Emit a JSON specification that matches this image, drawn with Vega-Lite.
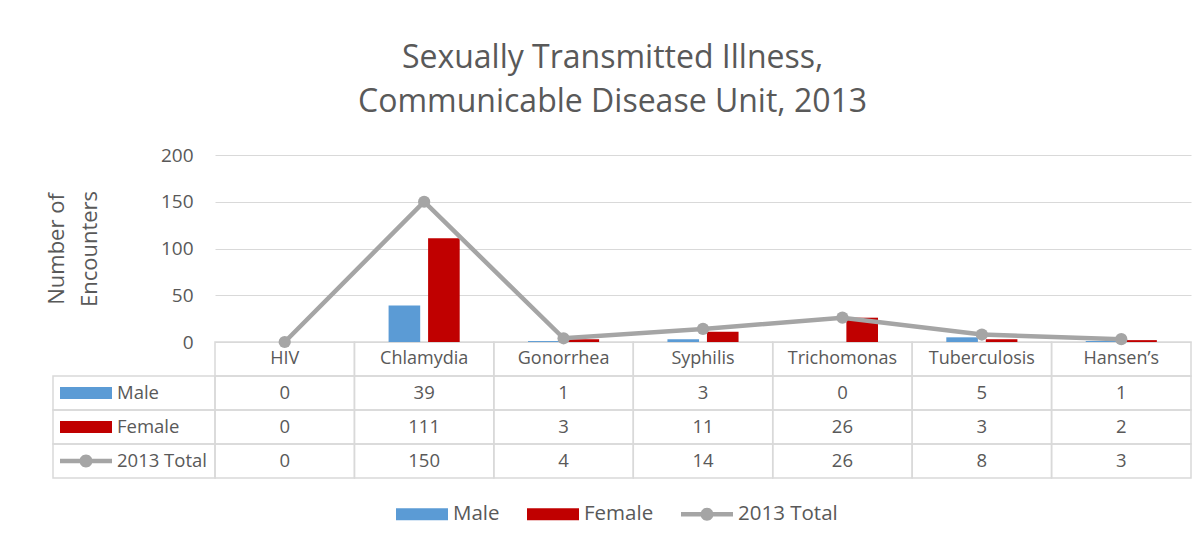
{
  "$schema": "https://vega.github.io/schema/vega-lite/v6.json",
  "width": 976,
  "height": 187,
  "autosize": {"type": "none"},
  "padding": {"left": 215, "top": 155, "right": 11, "bottom": 201},
  "background": "white",
  "config": {"view": {"stroke": null}, "font": "Open Sans"},
  "title": {
    "text": ["Sexually Transmitted Illness,", "Communicable Disease Unit, 2013"],
    "fontSize": 32, "font": "Open Sans", "fontWeight": "normal", "color": "#595959",
    "lineHeight": 44, "anchor": "middle", "frame": "bounds", "offset": 27, "dx": -6
  },
  "data": {"values": [
    {"category": "HIV", "series": "Male", "value": 0},
    {"category": "Chlamydia", "series": "Male", "value": 39},
    {"category": "Gonorrhea", "series": "Male", "value": 1},
    {"category": "Syphilis", "series": "Male", "value": 3},
    {"category": "Trichomonas", "series": "Male", "value": 0},
    {"category": "Tuberculosis", "series": "Male", "value": 5},
    {"category": "Hansen’s", "series": "Male", "value": 1},
    {"category": "HIV", "series": "Female", "value": 0},
    {"category": "Chlamydia", "series": "Female", "value": 111},
    {"category": "Gonorrhea", "series": "Female", "value": 3},
    {"category": "Syphilis", "series": "Female", "value": 11},
    {"category": "Trichomonas", "series": "Female", "value": 26},
    {"category": "Tuberculosis", "series": "Female", "value": 3},
    {"category": "Hansen’s", "series": "Female", "value": 2},
    {"category": "HIV", "series": "2013 Total", "value": 0},
    {"category": "Chlamydia", "series": "2013 Total", "value": 150},
    {"category": "Gonorrhea", "series": "2013 Total", "value": 4},
    {"category": "Syphilis", "series": "2013 Total", "value": 14},
    {"category": "Trichomonas", "series": "2013 Total", "value": 26},
    {"category": "Tuberculosis", "series": "2013 Total", "value": 8},
    {"category": "Hansen’s", "series": "2013 Total", "value": 3}
  ]},
  "layer": [
    {
      "layer": [
        {
          "mark": {"type": "rect", "fill": "white", "fillOpacity": 0, "stroke": "#d9d9d9", "strokeWidth": 1.5},
          "encoding": {
            "x": {"field": "category", "type": "nominal", "sort": null,
                  "scale": {"type": "band", "paddingInner": 0, "paddingOuter": 0}, "axis": null},
            "y": {"field": "series", "type": "nominal"}
          }
        },
        {
          "transform": [{"filter": "datum.series === 'Male'"}],
          "layer": [
            {
              "mark": {"type": "rect", "fill": "white", "fillOpacity": 0, "stroke": "#d9d9d9", "strokeWidth": 1.5},
              "encoding": {
                "x": {"field": "category", "type": "nominal", "sort": null, "axis": null},
                "y": {"datum": "header", "type": "nominal"}
              }
            },
            {
              "mark": {"type": "text", "fontSize": 18, "color": "#595959", "font": "Open Sans"},
              "encoding": {
                "x": {"field": "category", "type": "nominal", "sort": null, "axis": null},
                "y": {"datum": "header", "type": "nominal"},
                "text": {"field": "category"}
              }
            }
          ]
        },
        {
          "mark": {"type": "text", "fontSize": 18.5, "color": "#595959", "font": "Open Sans"},
          "encoding": {
            "x": {"field": "category", "type": "nominal", "sort": null, "axis": null},
            "y": {"field": "series", "type": "nominal"},
            "text": {"field": "value"}
          }
        }
      ],
      "encoding": {
        "y": {"type": "nominal",
              "scale": {"type": "band", "domain": ["header", "Male", "Female", "2013 Total"], "range": [187, 323], "paddingInner": 0, "paddingOuter": 0},
              "axis": null}
      }
    },
    {
      "transform": [{"filter": "datum.category === 'HIV'"}],
      "layer": [
        {
          "mark": {"type": "rect", "fill": "white", "fillOpacity": 0, "stroke": "#d9d9d9", "strokeWidth": 1.5},
          "encoding": {
            "x": {"datum": "label", "type": "nominal", "scale": {"type": "band", "domain": ["label"], "range": [-162, 0], "paddingInner": 0, "paddingOuter": 0}, "axis": null},
            "y": {"field": "series", "type": "nominal"}
          }
        },
        {
          "mark": {"type": "point", "filled": true, "size": 2704, "opacity": 1, "strokeWidth": 0},
          "encoding": {
            "x": {"datum": "swatch", "type": "nominal", "scale": {"type": "band", "domain": ["swatch"], "range": [-155, -103], "paddingInner": 0, "paddingOuter": 0}, "axis": null},
            "y": {"field": "series", "type": "nominal"},
            "color": {"field": "series", "type": "nominal", "title": null,
                      "scale": {"domain": ["Male", "Female", "2013 Total"], "range": ["#5b9bd5", "#c00000", "#a5a5a5"]},
                      "legend": {"orient": "none", "legendX": 181, "legendY": 333, "direction": "horizontal",
                                 "symbolSize": 2704, "symbolStrokeWidth": 0, "labelFontSize": 20.5, "labelColor": "#595959",
                                 "labelFont": "Open Sans", "labelOffset": 5, "columnPadding": 27}},
            "shape": {"field": "series", "type": "nominal", "title": null,
                      "scale": {"domain": ["Male", "Female", "2013 Total"],
                                "range": ["M-1,-0.23H1V0.23H-1Z", "M-1,-0.23H1V0.23H-1Z", "M-1,-0.09H1V0.09H-1Z M-0.25,0A0.25,0.25 0 1,1 0.25,0A0.25,0.25 0 1,1 -0.25,0Z"]},
                      "legend": {"orient": "none", "legendX": 181, "legendY": 333, "direction": "horizontal",
                                 "symbolSize": 2704, "symbolStrokeWidth": 0, "labelFontSize": 20.5, "labelColor": "#595959",
                                 "labelFont": "Open Sans", "labelOffset": 5, "columnPadding": 27}}
          }
        },
        {
          "mark": {"type": "text", "align": "left", "fontSize": 18.5, "color": "#595959", "font": "Open Sans"},
          "encoding": {
            "x": {"datum": "text", "type": "nominal", "bandPosition": 0, "scale": {"type": "band", "domain": ["text"], "range": [-98, 0], "paddingInner": 0, "paddingOuter": 0}, "axis": null},
            "y": {"field": "series", "type": "nominal"},
            "text": {"field": "series"}
          }
        }
      ],
      "encoding": {
        "y": {"type": "nominal",
              "scale": {"type": "band", "domain": ["header", "Male", "Female", "2013 Total"], "range": [187, 323], "paddingInner": 0, "paddingOuter": 0},
              "axis": null}
      },
      "resolve": {"scale": {"x": "independent"}}
    },
    {
      "layer": [
        {
          "transform": [{"filter": "datum.series !== '2013 Total'"}],
          "mark": {"type": "bar"},
          "encoding": {
            "xOffset": {"field": "series", "type": "nominal", "sort": ["Male", "Female"], "scale": {"paddingInner": 0.2, "paddingOuter": 0}},
            "color": {"field": "series", "type": "nominal",
                      "scale": {"domain": ["Male", "Female", "2013 Total"], "range": ["#5b9bd5", "#c00000", "#a5a5a5"]}}
          }
        },
        {
          "transform": [{"filter": "datum.series === '2013 Total'"}],
          "mark": {"type": "line", "strokeWidth": 4.5, "color": "#a5a5a5"},
          "encoding": {}
        },
        {
          "transform": [{"filter": "datum.series === '2013 Total'"}],
          "mark": {"type": "point", "filled": true, "size": 150, "opacity": 1, "color": "#a5a5a5"},
          "encoding": {}
        }
      ],
      "encoding": {
        "x": {"field": "category", "type": "nominal", "sort": null,
              "scale": {"type": "band", "paddingInner": 0.49, "paddingOuter": 0.245}, "axis": null},
        "y": {"field": "value", "type": "quantitative",
              "scale": {"domain": [0, 200], "nice": false},
              "axis": {"values": [0, 50, 100, 150, 200], "grid": true, "gridColor": "#d9d9d9", "gridWidth": 1,
                       "domain": false, "ticks": false, "labelFontSize": 19, "labelColor": "#595959", "labelFont": "Open Sans",
                       "labelPadding": 22, "title": ["Number of", "Encounters"], "titleFontSize": 22, "titleFont": "Open Sans",
                       "titleFontWeight": "normal", "titleColor": "#595959", "titlePadding": 59, "titleLineHeight": 33}}
      }
    }
  ],
  "resolve": {"scale": {"x": "independent", "y": "independent"}}
}
